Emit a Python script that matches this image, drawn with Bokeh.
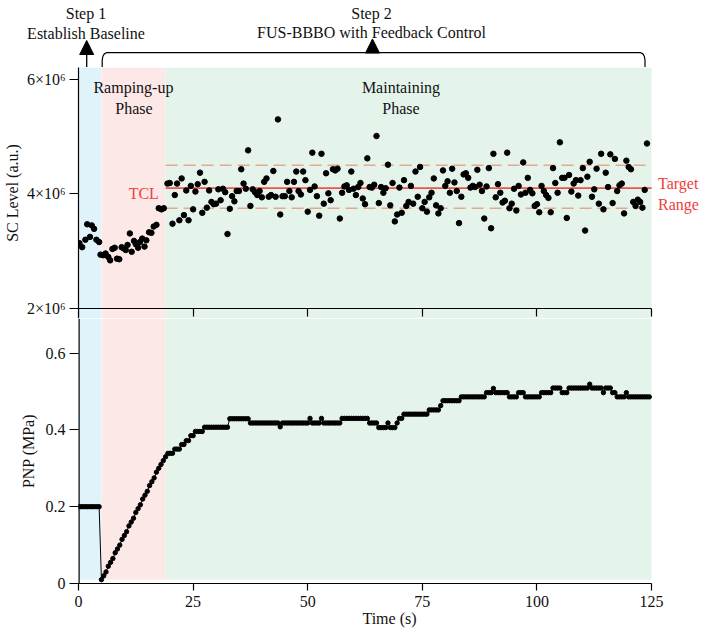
from bokeh.plotting import figure
from bokeh.layouts import column
from bokeh.models import Range1d, LinearAxis, FixedTicker, Arrow, NormalHead
from bokeh.core.properties import value
from bokeh.embed import file_html
from bokeh.resources import INLINE

# ---------------- data ----------------
phase_edges = [0, 5, 19, 125]
phase_colors = ["#e0f3fb", "#fde8e8", "#e4f4eb"]

# SC level, in units of 10^6 a.u.
sc_time = [
    0.2, 0.8, 1.5, 1.9, 2.5, 2.9, 3.4, 3.9, 4.5,
    4.8, 5.4, 5.9, 6.5, 6.9, 7.4, 7.9, 8.4, 8.9, 9.4, 9.8, 10.3, 10.7, 11.2, 11.6,
    12.1, 12.5, 13.0, 13.4, 13.9, 14.4, 14.8, 15.4, 15.9, 16.4, 17.0, 17.5, 18.1, 18.6,
    19.4, 19.9, 20.5, 21.0, 21.5, 22.0, 22.5, 23.0, 23.5, 24.0, 24.5,
    25.0, 25.5, 26.0, 26.5, 27.0, 27.5, 28.0, 28.5, 29.0, 29.5,
    30.0, 30.5, 31.0, 31.5, 32.0, 32.5, 33.0, 33.5, 34.0, 34.5,
    35.0, 35.5, 36.0, 36.5, 37.0, 37.5, 38.0, 38.5, 39.0, 39.5,
    40.0, 40.5, 41.0, 41.5, 42.0, 42.5, 43.0, 43.5, 44.0, 44.5,
    45.0, 45.5, 46.0, 46.5, 47.0, 47.5, 48.0, 48.5, 49.0, 49.5,
    50.0, 50.5, 51.0, 51.5, 52.0, 52.5, 53.0, 53.5, 54.0, 54.5,
    55.0, 55.5, 56.0, 56.5, 57.0, 57.5, 58.0, 58.5, 59.0, 59.5,
    60.0, 60.5, 61.0, 61.5, 62.0, 62.5, 63.0, 63.5, 64.0, 64.5,
    65.0, 65.5, 66.0, 66.5, 67.0, 67.5, 68.0, 68.5, 69.0, 69.5,
    70.0, 70.5, 71.0, 71.5, 72.0, 72.5, 73.0, 73.5, 74.0, 74.5,
    75.0, 75.5, 76.0, 76.5, 77.0, 77.5, 78.0, 78.5, 79.0, 79.5,
    80.0, 80.5, 81.0, 81.5, 82.0, 82.5, 83.0, 83.5, 84.0, 84.5,
    85.0, 85.5, 86.0, 86.5, 87.0, 87.5, 88.0, 88.5, 89.0, 89.5,
    90.0, 90.5, 91.0, 91.5, 92.0, 92.5, 93.0, 93.5, 94.0, 94.5,
    95.0, 95.5, 96.0, 96.5, 97.0, 97.5, 98.0, 98.5, 99.0, 99.5,
    100.0, 100.5, 101.0, 101.5, 102.0, 102.5, 103.0, 103.5, 104.0, 104.5,
    105.0, 105.5, 106.0, 106.5, 107.0, 107.5, 108.0, 108.5, 109.0, 109.5,
    110.0, 110.5, 111.0, 111.5, 112.0, 112.5, 113.0, 113.5, 114.0, 114.5,
    115.0, 115.5, 116.0, 116.5, 117.0, 117.5, 118.0, 118.5, 119.0, 119.5,
    120.0, 120.5, 121.0, 121.5, 122.0, 122.5, 123.0, 123.5, 124.0,
]
sc_level = [
    3.14, 3.07, 3.20, 3.47, 3.25, 3.45, 3.39, 3.20, 3.16,
    2.94, 2.93, 2.96, 2.90, 2.84, 3.04, 3.06, 2.87, 2.86, 3.07, 3.05, 3.02, 3.11, 3.31, 2.99,
    3.18, 3.12, 3.06, 3.16, 3.22, 3.08, 3.19, 3.33, 3.32, 3.43, 3.46, 3.75, 3.73, 3.75,
    4.18, 4.19, 3.48, 3.98, 4.18, 3.54, 4.27, 3.63, 4.06, 3.54, 4.14,
    3.73, 4.04, 4.17, 4.37, 3.67, 4.21, 3.76, 4.06, 3.86, 3.82,
    3.83, 4.08, 3.89, 4.09, 4.03, 3.30, 3.74, 3.96, 3.87, 4.05,
    4.05, 4.43, 4.18, 4.09, 4.76, 3.79, 4.08, 4.03, 3.98, 4.05,
    3.94, 4.21, 4.27, 3.95, 3.98, 4.40, 3.95, 5.30, 3.64, 3.96,
    3.96, 4.21, 4.05, 3.94, 4.21, 4.39, 4.05, 3.99, 4.39, 4.24,
    3.69, 4.07, 4.72, 4.13, 3.96, 3.62, 4.70, 3.83, 4.36, 4.01,
    3.89, 4.43, 4.41, 4.44, 3.57, 4.02, 4.13, 4.15, 4.07, 4.39,
    4.09, 3.98, 4.12, 4.19, 3.92, 3.82, 4.62, 4.12, 4.11, 4.16,
    5.01, 3.84, 4.12, 4.02, 4.10, 4.51, 3.80, 4.19, 3.52, 3.64,
    4.11, 3.67, 4.24, 3.79, 3.86, 4.14, 3.83, 4.39, 3.95, 4.47,
    3.75, 3.86, 3.69, 3.94, 4.02, 4.27, 3.80, 3.66, 3.75, 4.41,
    4.14, 4.22, 4.02, 4.44, 4.20, 4.05, 3.49, 3.95, 4.34, 4.36,
    4.28, 4.11, 4.14, 4.12, 4.42, 4.16, 4.05, 3.57, 4.13, 4.45,
    3.40, 4.70, 3.94, 4.17, 4.02, 3.85, 3.88, 4.72, 3.75, 3.83,
    4.09, 3.71, 4.14, 3.99, 4.55, 4.02, 4.28, 4.07, 4.01, 3.79,
    3.82, 3.68, 4.14, 4.05, 3.98, 3.93, 3.68, 4.45, 4.19, 4.02,
    4.90, 4.28, 4.28, 3.58, 4.33, 4.04, 4.18, 4.24, 3.97, 4.24,
    4.45, 3.36, 4.30, 4.56, 3.95, 4.08, 4.44, 3.83, 4.70, 3.73,
    4.37, 4.12, 4.69, 3.84, 4.61, 4.05, 4.15, 4.18, 3.66, 4.58,
    4.47, 4.43, 3.86, 3.79, 3.90, 3.86, 3.76, 4.07, 4.88,
]

tcl_level = 4.1
target_upper = 4.5
target_lower = 3.75
control_span = [19, 125]

pnp_time = [
    0.0, 0.5, 1.0, 1.5, 2.0, 2.5, 3.0, 3.5, 4.0, 4.5,
    5.0, 5.5, 6.0, 6.5, 7.0, 7.5, 8.0, 8.5, 9.0, 9.5,
    10.0, 10.5, 11.0, 11.5, 12.0, 12.5, 13.0, 13.5, 14.0, 14.5,
    15.0, 15.5, 16.0, 16.5, 17.0, 17.5, 18.0, 18.5, 19.0, 19.5,
    20.0, 20.5, 21.0, 21.5, 22.0, 22.5, 23.0, 23.5, 24.0, 24.5,
    25.0, 25.5, 26.0, 26.5, 27.0, 27.5, 28.0, 28.5, 29.0, 29.5,
    30.0, 30.5, 31.0, 31.5, 32.0, 32.5, 33.0, 33.5, 34.0, 34.5,
    35.0, 35.5, 36.0, 36.5, 37.0, 37.5, 38.0, 38.5, 39.0, 39.5,
    40.0, 40.5, 41.0, 41.5, 42.0, 42.5, 43.0, 43.5, 44.0, 44.5,
    45.0, 45.5, 46.0, 46.5, 47.0, 47.5, 48.0, 48.5, 49.0, 49.5,
    50.0, 50.5, 51.0, 51.5, 52.0, 52.5, 53.0, 53.5, 54.0, 54.5,
    55.0, 55.5, 56.0, 56.5, 57.0, 57.5, 58.0, 58.5, 59.0, 59.5,
    60.0, 60.5, 61.0, 61.5, 62.0, 62.5, 63.0, 63.5, 64.0, 64.5,
    65.0, 65.5, 66.0, 66.5, 67.0, 67.5, 68.0, 68.5, 69.0, 69.5,
    70.0, 70.5, 71.0, 71.5, 72.0, 72.5, 73.0, 73.5, 74.0, 74.5,
    75.0, 75.5, 76.0, 76.5, 77.0, 77.5, 78.0, 78.5, 79.0, 79.5,
    80.0, 80.5, 81.0, 81.5, 82.0, 82.5, 83.0, 83.5, 84.0, 84.5,
    85.0, 85.5, 86.0, 86.5, 87.0, 87.5, 88.0, 88.5, 89.0, 89.5,
    90.0, 90.5, 91.0, 91.5, 92.0, 92.5, 93.0, 93.5, 94.0, 94.5,
    95.0, 95.5, 96.0, 96.5, 97.0, 97.5, 98.0, 98.5, 99.0, 99.5,
    100.0, 100.5, 101.0, 101.5, 102.0, 102.5, 103.0, 103.5, 104.0, 104.5,
    105.0, 105.5, 106.0, 106.5, 107.0, 107.5, 108.0, 108.5, 109.0, 109.5,
    110.0, 110.5, 111.0, 111.5, 112.0, 112.5, 113.0, 113.5, 114.0, 114.5,
    115.0, 115.5, 116.0, 116.5, 117.0, 117.5, 118.0, 118.5, 119.0, 119.5,
    120.0, 120.5, 121.0, 121.5, 122.0, 122.5, 123.0, 123.5, 124.0, 124.5,
]
pnp_value = [
    0.2, 0.2, 0.2, 0.2, 0.2, 0.2, 0.2, 0.2, 0.2, 0.2,
    0.01, 0.02, 0.03, 0.045, 0.055, 0.065, 0.08, 0.09, 0.10, 0.115,
    0.125, 0.135, 0.15, 0.16, 0.17, 0.185, 0.195, 0.205, 0.22, 0.23,
    0.24, 0.255, 0.265, 0.275, 0.29, 0.30, 0.31, 0.32, 0.33, 0.339,
    0.339, 0.339, 0.35, 0.35, 0.35, 0.362, 0.362, 0.372, 0.372, 0.385,
    0.385, 0.396, 0.396, 0.396, 0.396, 0.407, 0.407, 0.407, 0.407, 0.407,
    0.407, 0.407, 0.407, 0.407, 0.407, 0.407, 0.429, 0.429, 0.429, 0.429,
    0.429, 0.429, 0.429, 0.429, 0.429, 0.418, 0.418, 0.418, 0.418, 0.418,
    0.418, 0.418, 0.418, 0.418, 0.418, 0.418, 0.418, 0.418, 0.408, 0.418,
    0.418, 0.418, 0.418, 0.418, 0.418, 0.418, 0.418, 0.418, 0.418, 0.418,
    0.418, 0.43, 0.418, 0.418, 0.418, 0.418, 0.43, 0.418, 0.418, 0.418,
    0.418, 0.418, 0.418, 0.418, 0.418, 0.43, 0.43, 0.43, 0.43, 0.43,
    0.43, 0.43, 0.43, 0.43, 0.43, 0.43, 0.43, 0.418, 0.418, 0.418,
    0.418, 0.406, 0.406, 0.406, 0.406, 0.418, 0.406, 0.406, 0.406, 0.418,
    0.43, 0.43, 0.441, 0.441, 0.441, 0.441, 0.441, 0.441, 0.441, 0.441,
    0.441, 0.441, 0.441, 0.452, 0.452, 0.452, 0.452, 0.452, 0.463, 0.476,
    0.476, 0.476, 0.476, 0.476, 0.476, 0.476, 0.476, 0.486, 0.486, 0.486,
    0.486, 0.486, 0.486, 0.486, 0.486, 0.486, 0.486, 0.486, 0.497, 0.497,
    0.497, 0.508, 0.497, 0.497, 0.497, 0.497, 0.497, 0.497, 0.486, 0.486,
    0.486, 0.486, 0.497, 0.497, 0.497, 0.486, 0.486, 0.486, 0.486, 0.486,
    0.486, 0.486, 0.497, 0.497, 0.497, 0.497, 0.497, 0.509, 0.509, 0.509,
    0.509, 0.497, 0.497, 0.497, 0.509, 0.509, 0.509, 0.509, 0.509, 0.509,
    0.509, 0.509, 0.509, 0.519, 0.509, 0.509, 0.509, 0.509, 0.509, 0.497,
    0.509, 0.509, 0.509, 0.497, 0.497, 0.486, 0.486, 0.486, 0.486, 0.497,
    0.486, 0.486, 0.486, 0.486, 0.486, 0.486, 0.486, 0.486, 0.486, 0.486,
]

x_ticks = [0, 25, 50, 75, 100, 125]
sc_ticks = [2, 4, 6]
sc_tick_labels = ["2×10⁶", "4×10⁶", "6×10⁶"]
pnp_ticks = [0, 0.2, 0.4, 0.6]
pnp_tick_labels = ["0", "0.2", "0.4", "0.6"]

# ---------------- layout ----------------
FONT = "Liberation Serif"
FS = "16px"
INK = "#111111"
RED = "#f03c3c"
W = 700
LEFT = 77            # page column of t = 0 (frame left)
PX_T = 4.592         # px per second
PX_PNP = 384.0       # px per MPa
PX_SC = 57.3         # px per 10^6 a.u.

HEAD_H = 67          # header strip (step annotations)
TOP_H = 251          # SC panel: frame rows 67..318
SC2_ROW = 308        # page row of SC = 2x10^6
BOT_H = 317          # PNP panel: rows 318..635
BOT_B = 52           # bottom border (x axis)
BOT_TOP = HEAD_H + TOP_H
BOT_FRAME = BOT_H - BOT_B


def tx(px):
    return (px - LEFT) / PX_T


def sc_at(py):
    return 2 + (SC2_ROW - py) / PX_SC


x_hi = tx(W)
sc_lo, sc_hi = sc_at(BOT_TOP), sc_at(HEAD_H)
pnp_hi = BOT_FRAME / PX_PNP


def style(ax, tick_out):
    ax.axis_line_width = 1.2
    ax.axis_line_color = "black"
    ax.major_tick_line_width = 1.2
    ax.major_tick_line_color = "black"
    ax.major_tick_in = 0
    ax.major_tick_out = tick_out
    ax.minor_tick_line_color = None
    ax.major_label_text_font = FONT
    ax.major_label_text_font_size = FS
    ax.major_label_text_color = INK
    ax.axis_label_text_font = FONT
    ax.axis_label_text_font_size = FS
    ax.axis_label_text_font_style = "normal"
    ax.axis_label_text_color = INK


def base(height, y_range, left, bottom, x_range):
    f = figure(width=W, height=height, output_backend="svg", toolbar_location=None,
               x_range=x_range, y_range=y_range,
               x_axis_location=None, y_axis_location=None,
               min_border_left=left, min_border_right=0, min_border_top=0,
               min_border_bottom=bottom)
    f.outline_line_color = None
    f.xgrid.visible = False
    f.ygrid.visible = False
    return f


# ---------- header: step annotations (page-pixel coordinates) ----------
head = base(HEAD_H, Range1d(HEAD_H, 0), 0, 0, Range1d(0, W))
head.frame_align = False
head.text(x=[85.5, 85.5, 371, 371], y=[12.5, 32.5, 12.5, 32.0],
          text=["Step 1", "Establish Baseline", "Step 2", "FUS-BBBO with Feedback Control"],
          text_font=value(FONT), text_font_size=FS, text_align="center",
          text_baseline="alphabetic", text_color=INK)
head.add_layout(Arrow(end=NormalHead(size=14, fill_color="black", line_color="black", line_width=1),
                      x_start=86.2, y_start=67, x_end=86.2, y_end=40,
                      line_width=1.3, line_color="black"))
head.add_layout(Arrow(end=NormalHead(size=14, fill_color="black", line_color="black", line_width=1),
                      x_start=372, y_start=52, x_end=372, y_end=38.5,
                      line_width=1.3, line_color="black"))
bracket_x = [101.7, 101.7, 102.3, 103.8, 106, 640.2, 642.4, 643.9, 644.5, 644.5]
bracket_y = [67, 60, 56, 53.4, 52.2, 52.2, 53.4, 56, 60, 67]
head.line(bracket_x, bracket_y, line_color="black", line_width=1.2)

# ---------- top panel: SC level ----------
top = base(TOP_H, Range1d(sc_lo, sc_hi), LEFT, 0, Range1d(0, x_hi))
top.quad(left=phase_edges[:-1], right=phase_edges[1:], bottom=sc_lo, top=sc_hi,
         fill_color=phase_colors, line_color=None)
for lvl in (target_upper, target_lower):
    top.line(control_span, [lvl, lvl], line_color="#e2a98c", line_width=1.6, line_dash="12 6")
top.line(control_span, [tcl_level, tcl_level], line_color="#f0524f", line_width=1.6)
top.scatter(sc_time, sc_level, size=5.5, fill_color="black", line_color="black")

ysc = LinearAxis(ticker=FixedTicker(ticks=sc_ticks), axis_label="SC Level (a.u.)",
                 major_label_overrides=dict(zip(sc_ticks, sc_tick_labels)))
style(ysc, 9)
ysc.major_label_standoff = 4
ysc.axis_label_standoff = 3
top.add_layout(ysc, "left")

xm = LinearAxis(ticker=FixedTicker(ticks=x_ticks), bounds=(0, 125), fixed_location=2,
                major_label_overrides={t: "" for t in x_ticks})
style(xm, 8)
top.add_layout(xm, "below")

top.text(x=[tx(132), tx(132.5), tx(400), tx(400)],
         y=[sc_at(87), sc_at(108), sc_at(87), sc_at(107.5)],
         text=["Ramping-up", "Phase", "Maintaining", "Phase"],
         text_font=value(FONT), text_font_size=FS, text_align="center",
         text_baseline="alphabetic", text_color=INK)
top.text(x=[tx(157.5)], y=[sc_at(192.5)], text=["TCL"], text_font=value(FONT),
         text_font_size=FS, text_align="right", text_baseline="alphabetic", text_color=RED)
top.text(x=[tx(657.5), tx(657.5)], y=[sc_at(182.5), sc_at(203.5)], text=["Target", "Range"],
         text_font=value(FONT), text_font_size=FS, text_align="left",
         text_baseline="alphabetic", text_color=RED)

# ---------- bottom panel: PNP ----------
bot = base(BOT_H, Range1d(0, pnp_hi), LEFT, BOT_B, top.x_range)
bot.quad(left=phase_edges[:-1], right=phase_edges[1:], bottom=4 / PX_PNP, top=pnp_hi,
         fill_color=phase_colors, line_color=None)
# left spine continuing the upper panel's axis line
bot.line([0, 0], [0, pnp_hi], line_color="black", line_width=2.4)
bot.line(pnp_time, pnp_value, line_color="black", line_width=1.0)
bot.scatter(pnp_time, pnp_value, size=4.4, fill_color="black", line_color="black")

ypn = LinearAxis(ticker=FixedTicker(ticks=pnp_ticks), bounds=(0, 0.6), axis_label="PNP (MPa)",
                 major_label_overrides=dict(zip(pnp_ticks, pnp_tick_labels)))
style(ypn, 9)
ypn.axis_line_color = None
ypn.major_label_standoff = 4
ypn.axis_label_standoff = 6
bot.add_layout(ypn, "left")

xb = LinearAxis(ticker=FixedTicker(ticks=x_ticks), bounds=(0, 125), axis_label="Time (s)")
style(xb, 7)
xb.major_label_standoff = 5
xb.axis_label_standoff = 0
bot.add_layout(xb, "below")

layout = column(head, top, bot, spacing=0)
open("out.html", "w").write(file_html(layout, INLINE))
